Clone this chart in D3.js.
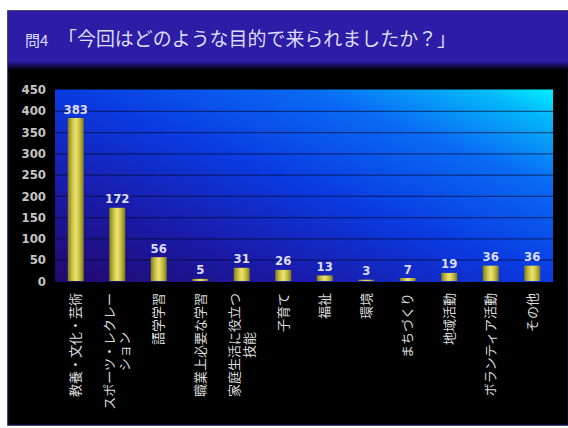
<!DOCTYPE html>
<html>
<head>
<meta charset="utf-8">
<script src="https://cdn.jsdelivr.net/npm/d3@7"></script>
<style>
  html, body { margin: 0; padding: 0; background: #ffffff; }
  svg { display: block; }
</style>
</head>
<body>
<svg id="chart" width="568" height="428"></svg>
<script>
// Survey question 4: purpose of visit (number of responses)
const titlePrefix = "問4";
const titleText = "「今回はどのような目的で来られましたか？」";

const categories = [
  "教養・文化・芸術",
  "スポーツ・レクレー\nション",
  "語学学習",
  "職業上必要な学習",
  "家庭生活に役立つ\n技能",
  "子育て",
  "福祉",
  "環境",
  "まちづくり",
  "地域活動",
  "ボランティア活動",
  "その他"
];
const counts = [383, 172, 56, 5, 31, 26, 13, 3, 7, 19, 36, 36];
const yTicks = [0, 50, 100, 150, 200, 250, 300, 350, 400, 450];

const svg = d3.select("#chart");
const W = 568, H = 428;
const plot = { left: 55, right: 553, top: 89.5, bottom: 281 };

const defs = svg.append("defs");

// background panel gradient: dark violet bottom-left to cyan top-right
const bg = defs.append("linearGradient").attr("id", "plotBg")
  .attr("x1", "0").attr("y1", "1").attr("x2", "1").attr("y2", "0");
[[0, "#22086a"], [0.25, "#1a1aa8"], [0.5, "#0a3ae0"], [0.75, "#0a6af4"], [0.92, "#04b8fa"], [1, "#00f0ff"]]
  .forEach(([o, c]) => bg.append("stop").attr("offset", o).attr("stop-color", c));

// cylinder-like shading across each bar
const barGrad = defs.append("linearGradient").attr("id", "barFill")
  .attr("x1", "0").attr("y1", "0").attr("x2", "1").attr("y2", "0");
[[0, "#807c1c"], [0.25, "#c4bc40"], [0.5, "#ece470"], [0.75, "#c4bc40"], [1, "#7c781a"]]
  .forEach(([o, c]) => barGrad.append("stop").attr("offset", o).attr("stop-color", c));

// title band fading into black
const bandGrad = defs.append("linearGradient").attr("id", "band")
  .attr("x1", "0").attr("y1", "0").attr("x2", "0").attr("y2", "1");
[[0, "#2c1ca6"], [0.85, "#2c1ca6"], [0.93, "#140c50"], [1, "#000000"]]
  .forEach(([o, c]) => bandGrad.append("stop").attr("offset", o).attr("stop-color", c));

// frame
svg.append("rect").attr("x", 8).attr("y", 11).attr("width", W - 8).attr("height", 414)
  .attr("fill", "#000000").attr("stroke", "#0c0c40").attr("stroke-width", 1.5);
svg.append("rect").attr("x", 8).attr("y", 11).attr("width", W - 8).attr("height", 59)
  .attr("fill", "url(#band)");

// title
const title = svg.append("text").attr("y", 46).attr("fill", "#dcdcff")
  .style("font-family", "'Noto Sans CJK JP', sans-serif");
title.append("tspan").attr("x", 25).style("font-size", "15px").text(titlePrefix);
title.append("tspan").attr("x", 58).style("font-size", "19px")
  .attr("textLength", 398).attr("lengthAdjust", "spacingAndGlyphs").text(titleText);

// scales
const x = d3.scaleBand().domain(categories).range([plot.left, plot.right]).paddingInner(0.615).paddingOuter(0.3075);
const y = d3.scaleLinear().domain([0, 450]).range([plot.bottom, plot.top]);

svg.append("rect").attr("x", plot.left).attr("y", plot.top)
  .attr("width", plot.right - plot.left).attr("height", plot.bottom - plot.top + 1)
  .attr("fill", "url(#plotBg)");

// gridlines
const grid = svg.append("g").attr("transform", `translate(${plot.left},0)`)
  .call(d3.axisLeft(y).tickValues(yTicks.filter(v => v > 0 && v < 450))
    .tickSize(-(plot.right - plot.left)).tickFormat(""));
grid.select(".domain").remove();
grid.selectAll("line").attr("stroke", "#00082a").attr("stroke-opacity", 0.55).attr("stroke-width", 1.2);

// y axis labels
const yAxis = svg.append("g").attr("transform", "translate(46,0)")
  .call(d3.axisLeft(y).tickValues(yTicks).tickSize(0).tickPadding(0));
yAxis.select(".domain").remove();
yAxis.selectAll("text")
  .attr("fill", "#c4c4c4")
  .style("font-family", "'Liberation Sans Narrow', 'DejaVu Sans Condensed', sans-serif")
  .style("font-weight", "bold").style("font-size", "13px");

// bars
svg.append("g").selectAll("rect").data(counts).join("rect")
  .attr("x", (d, i) => x(categories[i]))
  .attr("y", d => y(d))
  .attr("width", x.bandwidth())
  .attr("height", d => y(0) - y(d))
  .attr("fill", "url(#barFill)");

// value labels
svg.append("g").selectAll("text").data(counts).join("text")
  .attr("x", (d, i) => x(categories[i]) + x.bandwidth() / 2)
  .attr("y", d => y(d) - 4.5)
  .attr("text-anchor", "middle")
  .attr("fill", "#dcdcff")
  .style("font-family", "'Liberation Sans Narrow', 'DejaVu Sans Condensed', sans-serif")
  .style("font-weight", "bold").style("font-size", "13px")
  .text(d => d);

// rotated category labels, lines centred within their block
const labelTop = 293, lineGap = 15;
categories.forEach(cat => {
  const lines = cat.split("\n");
  const cx = x(cat) + x.bandwidth() / 2;
  const g = svg.append("g").attr("transform", `translate(${cx},${labelTop}) rotate(-90)`);
  const texts = lines.map((ln, i) => g.append("text")
    .attr("dy", "0.35em")
    .attr("y", (i - (lines.length - 1) / 2) * lineGap)
    .attr("text-anchor", "middle")
    .attr("fill", "#dcdcdc")
    .style("font-family", "'Noto Sans CJK JP', sans-serif")
    .style("font-size", "13px")
    .text(ln));
  const maxLen = d3.max(texts, t => t.node().getComputedTextLength());
  texts.forEach(t => t.attr("x", -maxLen / 2));
});
</script>
</body>
</html>
